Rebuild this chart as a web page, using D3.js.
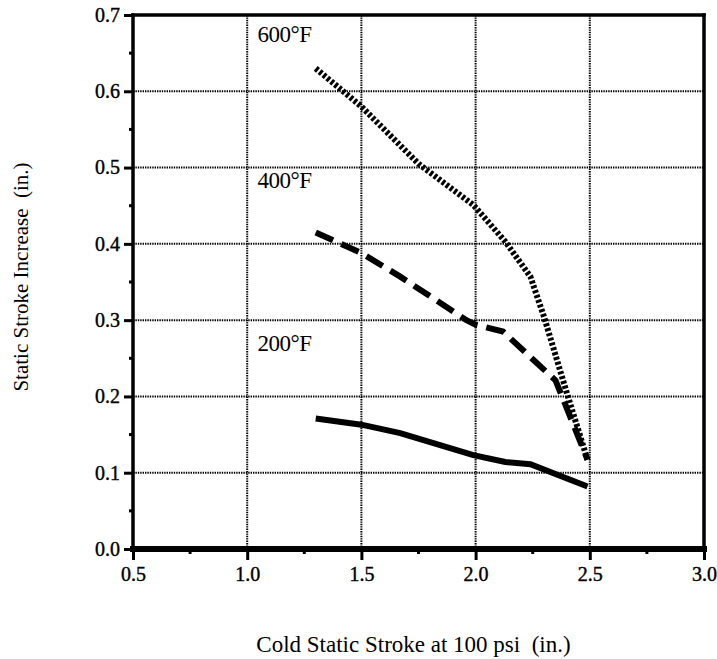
<!DOCTYPE html>
<html><head><meta charset="utf-8">
<script src="https://cdn.jsdelivr.net/npm/d3@7"></script>
<style>body{margin:0;background:#fff}svg{display:block}</style>
</head><body>
<script>
const xTicks = [0.5, 1.0, 1.5, 2.0, 2.5, 3.0];
const yTicks = [0.0, 0.1, 0.2, 0.3, 0.4, 0.5, 0.6, 0.7];
const seriesNames = ["600°F", "400°F", "200°F"];
const x600 = [1.3, 1.5, 1.75, 1.99, 2.13, 2.24, 2.3, 2.4, 2.49];
const y600 = [0.63, 0.58, 0.505, 0.451, 0.403, 0.357, 0.304, 0.204, 0.117];
const x400 = [1.3, 1.5, 1.67, 1.96, 2.0, 2.12, 2.35, 2.49];
const y400 = [0.415, 0.388, 0.357, 0.30, 0.294, 0.285, 0.221, 0.117];
const x200 = [1.3, 1.5, 1.67, 1.99, 2.13, 2.24, 2.49];
const y200 = [0.171, 0.163, 0.152, 0.123, 0.114, 0.111, 0.082];
const labelPos = [[1.045, 0.665], [1.045, 0.473], [1.045, 0.259]];

const W = 717, H = 659;
const m = {l:133, r:13, t:15, b:110};
const svg = d3.select("body").append("svg").attr("width", W).attr("height", H);
const x = d3.scaleLinear().domain([0.5, 3.0]).range([m.l, W - m.r]);
const y = d3.scaleLinear().domain([0, 0.7]).range([H - m.b, m.t]);
const font = "'Liberation Serif', 'Times New Roman', serif";

// grid
const g = svg.append("g");
g.selectAll(".gx").data(xTicks.slice(1, -1)).join("line")
  .attr("x1", d => x(d)).attr("x2", d => x(d)).attr("y1", y(0.7)).attr("y2", y(0))
  .attr("stroke", "#000").attr("stroke-width", 2).attr("stroke-dasharray", "1.4,1");
g.selectAll(".gy").data(yTicks.slice(1, -1)).join("line")
  .attr("y1", d => y(d)).attr("y2", d => y(d)).attr("x1", x(0.5)).attr("x2", x(3.0))
  .attr("stroke", "#000").attr("stroke-width", 2).attr("stroke-dasharray", "1.4,1");

// axes
const xAxis = d3.axisBottom(x).tickValues(xTicks).tickFormat(d3.format(".1f")).tickSizeInner(11).tickSizeOuter(0).tickPadding(7);
const yAxis = d3.axisLeft(y).tickValues(yTicks).tickFormat(d3.format(".1f")).tickSizeInner(9).tickSizeOuter(0).tickPadding(4);
const xa = svg.append("g").attr("transform", `translate(0,${y(0)})`).call(xAxis);
const ya = svg.append("g").attr("transform", `translate(${x(0.5)},0)`).call(yAxis);
[xa, ya].forEach(a => {
  a.select(".domain").remove();
  a.selectAll("line").attr("stroke", "#000").attr("stroke-width", 3);
  a.selectAll("text").attr("font-family", font).attr("font-size", 20).attr("fill", "#000")
    .attr("stroke", "#000").attr("stroke-width", 0.4);
});
// minor ticks
const xMinor = d3.range(0.75, 3.0, 0.5);
const yMinor = d3.range(0.05, 0.7, 0.1);
svg.append("g").selectAll("line").data(xMinor).join("line")
  .attr("x1", d => x(d)).attr("x2", d => x(d)).attr("y1", y(0)).attr("y2", y(0) + 5)
  .attr("stroke", "#000").attr("stroke-width", 3);
svg.append("g").selectAll("line").data(yMinor).join("line")
  .attr("y1", d => y(d)).attr("y2", d => y(d)).attr("x1", x(0.5)).attr("x2", x(0.5) - 4)
  .attr("stroke", "#000").attr("stroke-width", 3);
// frame
const frame = [
  [x(0.5), y(0.7), x(3), y(0.7), 3.5],
  [x(0.5), y(0.7), x(0.5), y(0), 3.5],
  [x(3), y(0.7), x(3), y(0), 3.5],
  [x(0.5), y(0), x(3), y(0), 6]
];
svg.append("g").selectAll("line").data(frame).join("line")
  .attr("x1", d => d[0]).attr("y1", d => d[1]).attr("x2", d => d[2]).attr("y2", d => d[3])
  .attr("stroke", "#000").attr("stroke-width", d => d[4]).attr("stroke-linecap", "square");

// series
const line = d3.line().x(d => x(d[0])).y(d => y(d[1]));
const series = [
  {xs: x600, ys: y600, dash: "3,2"},
  {xs: x400, ys: y400, dash: "19,9"},
  {xs: x200, ys: y200, dash: null}
];
series.forEach(s => {
  svg.append("path").datum(s.xs.map((v, i) => [v, s.ys[i]]))
    .attr("d", line).attr("fill", "none").attr("stroke", "#000").attr("stroke-width", 6)
    .attr("stroke-dasharray", s.dash);
});
svg.append("g").selectAll("text").data(seriesNames).join("text")
  .attr("x", (d, i) => x(labelPos[i][0])).attr("y", (d, i) => y(labelPos[i][1]))
  .attr("font-family", font).attr("font-size", 23).attr("letter-spacing", -0.5).text(d => d);

// titles
svg.append("text").attr("x", (x(0.5) + x(3)) / 2 - 5).attr("y", 652).attr("text-anchor", "middle")
  .attr("font-family", font).attr("font-size", 23).style("white-space", "pre").text("Cold Static Stroke at 100 psi  (in.)");
svg.append("text").attr("transform", `translate(28,277) rotate(-90)`).attr("text-anchor", "middle")
  .attr("font-family", font).attr("font-size", 21).style("white-space", "pre").text("Static Stroke Increase  (in.)");
</script>
</body></html>
